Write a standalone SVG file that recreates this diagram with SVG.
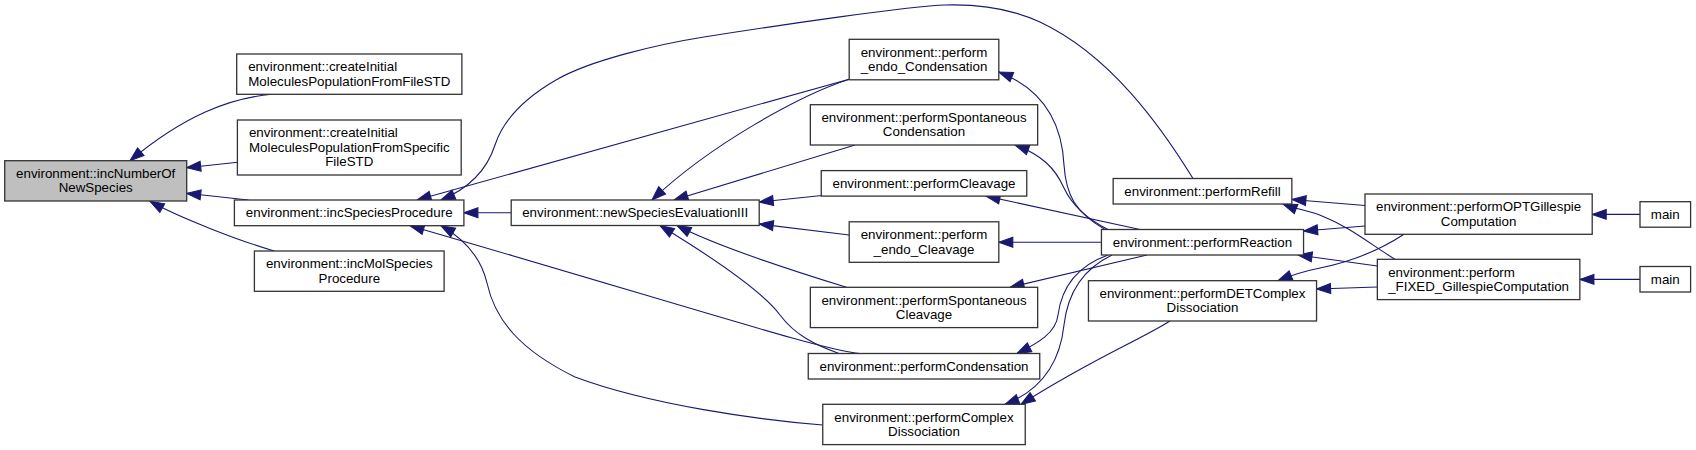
<svg xmlns="http://www.w3.org/2000/svg" width="1696" height="450" viewBox="0 0 1696 450">
<style>
.box{fill:#ffffff;stroke:#333333;stroke-width:1.3}
.hl{fill:#bfbfbf}
text{font-family:"Liberation Sans",Arial,Helvetica,sans-serif;font-size:13.33px;fill:#000000}
.m{text-anchor:middle}
.s{text-anchor:start}
.e{fill:none;stroke:#191970;stroke-width:1.1;marker-end:url(#ah)}
</style>
<defs>
<marker id="ah" markerUnits="userSpaceOnUse" markerWidth="14" markerHeight="10" refX="13" refY="4.6" orient="auto" viewBox="0 0 13 9.2" overflow="visible">
<path d="M0,0 L13,4.6 L0,9.2 z" fill="#191970" stroke="#191970" stroke-width="1"/>
</marker>
</defs>
<rect width="1696" height="450" fill="#ffffff"/>
<g id="connectors">
<path class="e" d="M272,94.3 C230,98 185,115 130,160.7"/>
<path class="e" d="M237.7,162.3 L186.7,167.7"/>
<path class="e" d="M248.3,200 L186.7,193.3"/>
<path class="e" d="M274.3,251 C240,241 180,218 150,201.3"/>
<path class="e" d="M511.2,212.8 L463.9,212.8"/>
<path class="e" d="M850,79 L417,200"/>
<path class="e" d="M1193,178.5 C1160,125 1110,55 1040,22 C1012,9 980,4 945,5 C910,6 780,25 704,37 C660,44 590,60 556,80 C530,95 505,115 495,145 C487,170 470,188 441,200"/>
<path class="e" d="M850,79 C800,95 710,145 652,200"/>
<path class="e" d="M855,145 L674,200"/>
<path class="e" d="M822,195.5 L759.2,202"/>
<path class="e" d="M849.2,235 L759.2,224"/>
<path class="e" d="M846.5,287.3 C800,273 720,248 677,225.5"/>
<path class="e" d="M839,353.5 C815,345 795,335 780,315 C765,295 720,262 660,225.5"/>
<path class="e" d="M860,353.5 C825,351 700,310 410,225.7"/>
<path class="e" d="M822.7,425 C760,420 650,405 575,377 C520,350 495,320 487,283 C482,262 470,242 441,225.7"/>
<path class="e" d="M1105,229.5 C1075,212 1066,195 1064,165 C1062,125 1045,90 998.8,72"/>
<path class="e" d="M1108,229.5 C1085,218 1072,205 1064,188 C1055,168 1042,155 1015,145"/>
<path class="e" d="M1140,229.5 L986,196.1"/>
<path class="e" d="M1101.4,242.3 L998.8,242.3"/>
<path class="e" d="M1147,255 L1010,287.3"/>
<path class="e" d="M1108,255 C1080,265 1062,285 1058,315 C1056,333 1038,343 1017,353.5"/>
<path class="e" d="M1112,255 C1085,268 1068,290 1064,325 C1060,362 1042,390 1005,404.3"/>
<path class="e" d="M1170,321 C1140,340 1090,360 1021,404.3"/>
<path class="e" d="M1365,205.5 L1291.9,199.5"/>
<path class="e" d="M1365,226 L1303.6,231"/>
<path class="e" d="M1395,259.3 C1370,244 1350,227 1322,216 C1310,211 1296,209 1283,204"/>
<path class="e" d="M1377.3,266 L1298,255"/>
<path class="e" d="M1377.3,287 L1316.6,289"/>
<path class="e" d="M1404,234.3 C1380,250 1350,262 1320,268 C1305,271 1292,275 1278,280.7"/>
<path class="e" d="M1640,214.4 L1592.2,214.4"/>
<path class="e" d="M1640,279.4 L1579.9,279.4"/>
</g>
<g id="n1"><rect class="box hl" x="4.7" y="160.7" width="182" height="40.3"/><text class="m" x="95.7" y="177.9">environment::incNumberOf</text><text class="m" x="95.7" y="192.4">NewSpecies</text></g>
<g id="n2"><rect class="box" x="236.7" y="54" width="225.2" height="40.3"/><text class="s" x="248.2" y="71.2">environment::createInitial</text><text class="m" x="349.3" y="85.7">MoleculesPopulationFromFileSTD</text></g>
<g id="n3"><rect class="box" x="237.4" y="120" width="223.8" height="55"/><text class="s" x="248.9" y="137.3">environment::createInitial</text><text class="m" x="349.3" y="151.8">MoleculesPopulationFromSpecific</text><text class="m" x="349.3" y="166.3">FileSTD</text></g>
<g id="n4"><rect class="box" x="234.4" y="200" width="229.5" height="25.7"/><text class="m" x="349.2" y="217.15">environment::incSpeciesProcedure</text></g>
<g id="n5"><rect class="box" x="254.4" y="251" width="189.7" height="40.3"/><text class="m" x="349.3" y="268.2">environment::incMolSpecies</text><text class="m" x="349.3" y="282.7">Procedure</text></g>
<g id="n6"><rect class="box" x="511.2" y="200" width="248" height="25.5"/><text class="m" x="635.2" y="217.05">environment::newSpeciesEvaluationIII</text></g>
<g id="n7"><rect class="box" x="849.2" y="39.3" width="149.6" height="40.5"/><text class="m" x="924" y="56.6">environment::perform</text><text class="m" x="924" y="71.1">_endo_Condensation</text></g>
<g id="n8"><rect class="box" x="810.35" y="104.7" width="227.3" height="40.3"/><text class="m" x="924" y="121.9">environment::performSpontaneous</text><text class="m" x="924" y="136.4">Condensation</text></g>
<g id="n9"><rect class="box" x="821.25" y="170.6" width="205.5" height="25.5"/><text class="m" x="924" y="187.65">environment::performCleavage</text></g>
<g id="n10"><rect class="box" x="849.2" y="221.8" width="149.6" height="40.5"/><text class="m" x="924" y="239.1">environment::perform</text><text class="m" x="924" y="253.6">_endo_Cleavage</text></g>
<g id="n11"><rect class="box" x="810.35" y="287.3" width="227.3" height="40.3"/><text class="m" x="924" y="304.5">environment::performSpontaneous</text><text class="m" x="924" y="319">Cleavage</text></g>
<g id="n12"><rect class="box" x="808.25" y="353.5" width="231.5" height="25.5"/><text class="m" x="924" y="370.55">environment::performCondensation</text></g>
<g id="n13"><rect class="box" x="822.75" y="404.3" width="202.5" height="40.3"/><text class="m" x="924" y="421.5">environment::performComplex</text><text class="m" x="924" y="436">Dissociation</text></g>
<g id="n14"><rect class="box" x="1113.15" y="178.5" width="178.7" height="25.5"/><text class="m" x="1202.5" y="195.55">environment::performRefill</text></g>
<g id="n15"><rect class="box" x="1101.45" y="229.5" width="202.1" height="25.5"/><text class="m" x="1202.5" y="246.55">environment::performReaction</text></g>
<g id="n16"><rect class="box" x="1088.45" y="280.7" width="228.1" height="40.3"/><text class="m" x="1202.5" y="297.9">environment::performDETComplex</text><text class="m" x="1202.5" y="312.4">Dissociation</text></g>
<g id="n17"><rect class="box" x="1365" y="194" width="227.2" height="40.3"/><text class="m" x="1478.6" y="211.2">environment::performOPTGillespie</text><text class="m" x="1478.6" y="225.7">Computation</text></g>
<g id="n18"><rect class="box" x="1377.35" y="259.3" width="202.5" height="40.3"/><text class="s" x="1388.2" y="276.5">environment::perform</text><text class="m" x="1478.6" y="291">_FIXED_GillespieComputation</text></g>
<g id="n19"><rect class="box" x="1640" y="201.7" width="50.6" height="25.5"/><text class="m" x="1665.3" y="218.75">main</text></g>
<g id="n20"><rect class="box" x="1640" y="266.5" width="50.6" height="25.5"/><text class="m" x="1665.3" y="283.55">main</text></g>
</svg>
